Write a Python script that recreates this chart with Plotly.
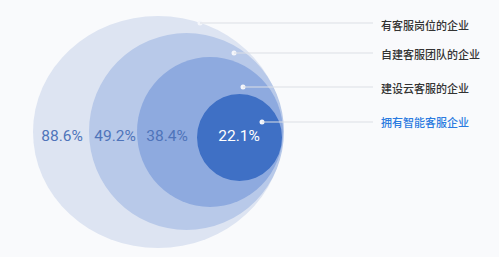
import plotly.graph_objects as go

# Data
categories = ["有客服岗位的企业", "自建客服团队的企业", "建设云客服的企业", "拥有智能客服企业"]
values = [88.6, 49.2, 38.4, 22.1]

# Layout constants (pixel space)
W, H = 499, 257
circle_boxes = [(33, 16, 283, 248), (89, 33, 284, 230), (137, 57, 283, 207), (197, 94, 282, 181)]
fills = ["#dde4f2", "#b8c9e9", "#8eaadf", "#3f70c5"]
pct_x = [62, 115, 167, 239]
pct_y = 137
pct_colors = ["#4f74ba", "#4f74ba", "#4f74ba", "#ffffff"]
dots = [(200, 23), (234, 53), (243, 87), (262, 122)]
label_x = 379
label_y = [25, 54, 88, 122]
label_colors = ["#333333", "#333333", "#333333", "#2b7be0"]
line_end = 373

fig = go.Figure()
shapes = []
for (x0, y0, x1, y1), c in zip(circle_boxes, fills):
    shapes.append(dict(type="circle", xref="x", yref="y", x0=x0, y0=y0, x1=x1, y1=y1,
                       fillcolor=c, line=dict(width=0), layer="below"))
for (dx, dy) in dots:
    shapes.append(dict(type="line", xref="x", yref="y", x0=dx, y0=dy, x1=line_end, y1=dy,
                       line=dict(color="#dcdfe5", width=1)))
fig.update_layout(shapes=shapes)

fig.add_trace(go.Scatter(x=[d[0] for d in dots], y=[d[1] for d in dots], mode="markers",
                         marker=dict(size=5, color="#f4f6fb"), hoverinfo="skip", showlegend=False))

fig.add_trace(go.Scatter(x=pct_x, y=[pct_y] * len(values), mode="text",
                         text=[f"{v}%" for v in values],
                         textfont=dict(size=15.5, color=pct_colors, family="Roboto, Noto Sans, sans-serif"),
                         hoverinfo="skip", showlegend=False))

for cat, y, col in zip(categories, label_y, label_colors):
    fig.add_annotation(x=label_x, y=y, text=cat, showarrow=False, xanchor="left", yanchor="middle",
                       font=dict(size=11, color=col, family="Noto Sans CJK SC", weight=500))

fig.update_layout(
    width=W, height=H, margin=dict(l=0, r=0, t=0, b=0),
    paper_bgcolor="#f9fafc", plot_bgcolor="#f9fafc",
    xaxis=dict(range=[0, W], visible=False, fixedrange=True),
    yaxis=dict(range=[H, 0], visible=False, fixedrange=True),
    showlegend=False,
)
fig.write_html("out.html")
